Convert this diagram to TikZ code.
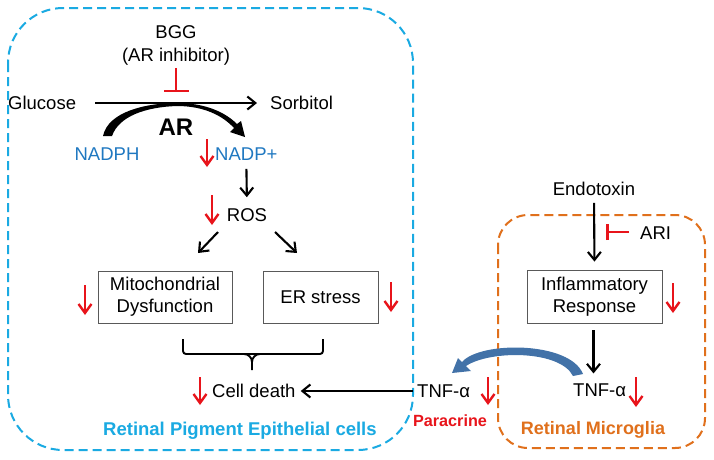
\documentclass[tikz,border=0pt]{standalone}
\usepackage{fontspec}
\setmainfont{Liberation Sans}
\usetikzlibrary{arrows.meta}
\definecolor{redc}{HTML}{E8141B}
\definecolor{nadp}{HTML}{1F78C1}
\definecolor{rpe}{HTML}{1AAAE2}
\definecolor{orng}{HTML}{E0701C}
\definecolor{para}{HTML}{4272A8}
\begin{document}
\begin{tikzpicture}[x=1pt,y=-1pt,
  txt/.style={inner sep=0pt, font=\fontsize{18.5}{22}\selectfont, text height=13.2pt, text depth=0pt},
  blk/.style={draw=black, line width=2.1pt, -{Straight Barb[length=8pt,width=13pt,line width=2.1pt]}},
  redarr/.style={draw=redc, line width=2.4pt, -{Straight Barb[length=9pt,width=13pt,line width=2.4pt]}},
  inh/.style={draw=redc, line width=2.2pt, -{Bar[width=25pt,line width=2.5pt]}},
  boxn/.style={draw=black!65, line width=0.9pt, align=center, inner sep=0pt,
    font=\fontsize{18.5}{22}\selectfont},
  dashbox/.style={line width=2pt, dash pattern=on 9pt off 5pt}
]
\useasboundingbox (0,0) rectangle (714,459);
\fill[white] (0,0) rectangle (714,459);

% compartments
\draw[dashbox, draw=rpe, rounded corners=55pt] (8,8) rectangle (413,450);
\draw[dashbox, draw=orng, rounded corners=30pt] (498,215) rectangle (705,448);

% top pathway
\node[txt] (bgg) at (176,32) {BGG};
\node[txt] (arinh) at (176,55) {(AR inhibitor)};
\coordinate (bggbar) at (176,92);
\draw[inh] (arinh.south) ++(0,6) -- (bggbar);

\node[txt,anchor=west] (glu) at (8,103) {Glucose};
\node[txt,anchor=west] (sor) at (270,103) {Sorbitol};
\draw[blk, shorten <=19pt, shorten >=13pt] (glu) -- (sor);

\node[txt, font=\bfseries\fontsize{24}{28}\selectfont, text height=17.2pt] (ar) at (176,127) {AR};
\node[txt, text=nadp] (nadph) at (107,154) {NADPH};
\node[txt, text=nadp, anchor=west] (nadpp) at (215,154) {NADP+};

% AR cofactor arc
\fill (103,136) .. controls (108,112) and (145,103) .. (177,103)
  .. controls (205,103) and (225,112) .. (237,124)
  -- (241,121) -- (245,137) -- (230,132) -- (234,128)
  .. controls (222,115) and (203,106) .. (177,106)
  .. controls (146,107) and (119,116) .. (112,136) -- cycle;

\draw[redarr] (207,139) -- (207,167);

\node[txt] (ros) at (247,215) {ROS};
\draw[blk, shorten <=8pt, shorten >=11pt] (nadpp.south) -- (ros.north);
\draw[redarr] (212,195) -- (212,225);

\node[boxn, minimum width=134pt, minimum height=52pt] (mito) at (165,297) {Mitochondrial\\Dysfunction};
\node[boxn, minimum width=115pt, minimum height=52pt] (er) at (320.5,297) {ER stress};
\coordinate (rosL) at (218,232);
\coordinate (rosR) at (275,232);
\coordinate (mitoT) at (198,253);
\coordinate (erT) at (297,253);
\draw[blk] (rosL) -- (mitoT);
\draw[blk] (rosR) -- (erT);
\draw[redarr] (85,285) -- (85,315);
\draw[redarr] (391,282) -- (391,312);

% brace
\draw[line width=1.9pt, rounded corners=3pt] (183,339) -- (183,354) -- (323,354) -- (323,339);
\draw[line width=1.9pt] (244,354) to[out=0,in=90] (252,362) -- (252,370);
\draw[line width=1.9pt] (260,354) to[out=180,in=90] (252,362);

\node[txt,anchor=west] (cd) at (212,391) {Cell death};
\draw[redarr] (200,377) -- (200,405);

\node[txt,anchor=west] (tnfL) at (417,391) {TNF-α};
\draw[blk, shorten <=4pt, shorten >=5pt] (tnfL.west) -- (cd.east);
\draw[redarr] (488,377) -- (488,405);
\node[txt, text=redc, font=\bfseries\fontsize{16.2}{19}\selectfont, text height=11.6pt] (para) at (450,421) {Paracrine};
\node[txt, text=rpe, font=\bfseries\fontsize{18.5}{22}\selectfont, anchor=west] (rpelab) at (103,429) {Retinal Pigment Epithelial cells};

% microglia
\node[txt] (endo) at (594,189) {Endotoxin};
\node[boxn, minimum width=135pt, minimum height=53pt] (infl) at (594.5,296.5) {Inflammatory\\Response};
\draw[blk, shorten <=7pt, shorten >=8pt] (endo.south) -- (infl.north);
\node[txt,anchor=west] (ari) at (640,233) {ARI};
\coordinate (aribar) at (606,232);
\draw[inh, -{Bar[width=16pt,line width=2.5pt]}] (ari.west) ++(-11,-1) -- (aribar);
\draw[redarr] (673,283) -- (673,313);
\node[txt,anchor=west] (tnfR) at (573,390) {TNF-α};
\draw[blk] (infl.south) ++(-1,7) -- ++(0,43);
\draw[redarr] (636,377) -- (636,407);
\node[txt, text=orng, font=\bfseries\fontsize{18}{22}\selectfont] (mglab) at (593,428) {Retinal Microglia};

% paracrine curved arrow
\fill[para] (583,374) .. controls (570,341) and (480,341) .. (462,362)
  -- (458,358) -- (452,373) -- (471,371) -- (466,366)
  .. controls (490,350) and (560,350) .. (573,376) -- cycle;
\end{tikzpicture}
\end{document}
